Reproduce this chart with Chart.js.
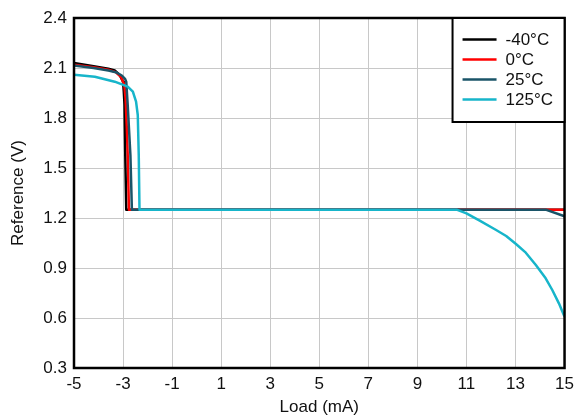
<!DOCTYPE html>
<html>
<head>
<meta charset="utf-8">
<script src="https://cdn.jsdelivr.net/npm/chart.js@4/dist/chart.umd.min.js"></script>
<style>
  html, body { margin: 0; padding: 0; background: #fff; }
  #wrap { width: 580px; height: 420px; }
</style>
</head>
<body>
<div id="wrap"><canvas id="chartEl"></canvas></div>
<script>
// load (mA) / reference (V)
const seriesNames = ['-40°C', '0°C', '25°C', '125°C']
const seriesColors = ['#000000', '#ff0000', '#1a5468', '#17b5ca']

const loadM40 = [-5, -4.2, -3.6, -3.34, -3.14, -3.0, -2.97, -2.94, -2.91, -2.87, 15]
const refM40 = [2.13, 2.11, 2.095, 2.085, 2.058, 2.018, 1.958, 1.878, 1.578, 1.25, 1.25]

const load0 = [-5, -4.2, -3.6, -3.3, -3.08, -2.95, -2.9, -2.85, -2.81, -2.76, 15]
const ref0 = [2.12, 2.105, 2.09, 2.075, 2.045, 2.0, 1.92, 1.75, 1.578, 1.25, 1.25]

const load25 = [-5, -4.2, -3.6, -3.3, -3.05, -2.92, -2.87, -2.81, -2.7, -2.64, 14.23, 14.97, 15]
const ref25 = [2.115, 2.1, 2.085, 2.075, 2.055, 2.035, 2.018, 1.878, 1.578, 1.25, 1.25, 1.212, 1.208]

const load125 = [-5, -4.15, -3.34, -2.81, -2.6, -2.47, -2.4, -2.36, -2.33,
  10.6, 11.0, 11.54, 12.21, 12.62, 13.02, 13.42, 13.83, 14.23, 14.5, 14.77, 14.97, 15]
const ref125 = [2.06, 2.048, 2.018, 1.988, 1.958, 1.898, 1.818, 1.578, 1.25,
  1.25, 1.228, 1.184, 1.128, 1.092, 1.044, 0.992, 0.918, 0.838, 0.768, 0.688, 0.618, 0.61]

const xMin = -5, xMax = 15, xStep = 2
const yMin = 0.3, yMax = 2.4, yStep = 0.3

const allLoads = [loadM40, load0, load25, load125]
const allRefs = [refM40, ref0, ref25, ref125]

const fontFam = '"Liberation Sans", Arial, sans-serif'

/* Cadre noir autour de la zone de tracé */
const framePlugin = {
  id: 'frame',
  afterDatasetsDraw(chart) {
    const { ctx, chartArea: a } = chart
    ctx.save()
    ctx.strokeStyle = '#000'
    ctx.lineWidth = 2.5
    ctx.strokeRect(a.left, a.top, a.right - a.left, a.bottom - a.top)
    ctx.restore()
  }
}

/* Légende encadrée dans le coin haut droit */
const boxLegend = {
  id: 'boxLegend',
  afterDraw(chart) {
    const { ctx, chartArea: a } = chart
    const w = 112, h = 104
    const x0 = a.right - w, y0 = a.top
    ctx.save()
    ctx.fillStyle = '#fff'
    ctx.fillRect(x0, y0, w, h)
    ctx.strokeStyle = '#000'
    ctx.lineWidth = 2
    ctx.strokeRect(x0, y0, w, h)
    ctx.font = '17px ' + fontFam
    ctx.textBaseline = 'middle'
    chart.data.datasets.forEach((ds, i) => {
      const y = y0 + 21.5 + i * 20
      ctx.strokeStyle = ds.borderColor
      ctx.lineWidth = 2.5
      ctx.beginPath()
      ctx.moveTo(x0 + 10, y)
      ctx.lineTo(x0 + 44, y)
      ctx.stroke()
      ctx.fillStyle = '#111'
      ctx.fillText(ds.label, x0 + 53, y + 1)
    })
    ctx.restore()
  }
}

const datasets = seriesNames.map((name, i) => ({
  label: name,
  data: allLoads[i].map((x, k) => ({ x: x, y: allRefs[i][k] })),
  borderColor: seriesColors[i],
  backgroundColor: seriesColors[i],
  borderWidth: 2.5,
  pointRadius: 0,
  tension: 0,
  borderJoinStyle: 'round',
  order: seriesNames.length - i
}))

new Chart(document.querySelector('#chartEl'), {
  type: 'line',
  data: { datasets: datasets },
  options: {
    responsive: true,
    maintainAspectRatio: false,
    animation: false,
    layout: { padding: { top: 18, right: 11, left: 0, bottom: 0 } },
    plugins: { legend: { display: false }, tooltip: { enabled: false } },
    scales: {
      x: {
        type: 'linear',
        min: xMin, max: xMax,
        afterFit: s => { s.height = 52 },
        afterBuildTicks: s => {
          s.ticks = []
          for (let v = xMin; v <= xMax; v += xStep) s.ticks.push({ value: v })
        },
        ticks: { padding: 6, color: '#111', font: { family: fontFam, size: 17 } },
        grid: { color: '#c8c8c8', lineWidth: 1, drawTicks: false },
        border: { display: false },
        title: { display: true, text: 'Load (mA)', color: '#111', padding: { top: 0, bottom: 2 }, font: { family: fontFam, size: 17 } }
      },
      y: {
        min: yMin, max: yMax,
        afterFit: s => { s.width = 74 },
        afterBuildTicks: s => {
          s.ticks = []
          for (let k = 0; k <= Math.round((yMax - yMin) / yStep); k++) s.ticks.push({ value: +(yMin + k * yStep).toFixed(1) })
        },
        ticks: { padding: 7, color: '#111', font: { family: fontFam, size: 17 }, callback: v => v.toFixed(1) },
        grid: { color: '#c8c8c8', lineWidth: 1, drawTicks: false },
        border: { display: false },
        title: { display: true, text: 'Reference (V)', color: '#111', padding: { top: 8, bottom: 0 }, font: { family: fontFam, size: 17 } }
      }
    }
  },
  plugins: [framePlugin, boxLegend]
})
</script>
</body>
</html>
